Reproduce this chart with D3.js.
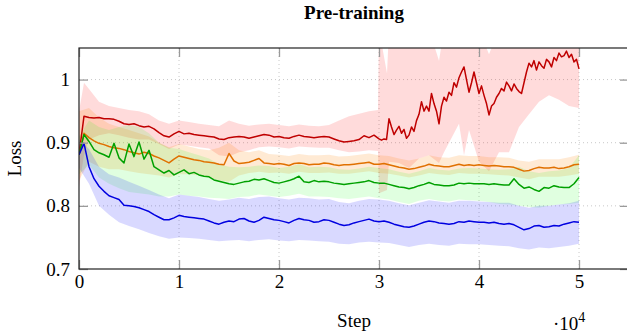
<!DOCTYPE html>
<html>
<head>
<meta charset="utf-8">
<script src="https://cdn.jsdelivr.net/npm/d3@7"></script>
<style>
  body { margin: 0; background: #fff; }
  svg text { font-family: "Liberation Serif", "Times New Roman", serif; fill: #000; }
</style>
</head>
<body>
<svg id="chart" width="627" height="334"></svg>
<script>
// x positions of the logged points, in units of 10^4 steps
const steps = d3.range(101).map(i => +(i * 0.05).toFixed(2));
// red run is logged more densely after 3e4 steps
const redSteps = steps.slice(0, 60).concat(d3.range(81).map(i => +(3 + i * 0.025).toFixed(3)));

const xTicks = [0, 1, 2, 3, 4, 5];
const yTicks = [0.7, 0.8, 0.9, 1.0];

// mean loss curves
const redLoss = [
  0.881,0.942,0.940,0.939,0.940,0.938,0.938,0.937,0.934,0.930,
  0.929,0.930,0.927,0.925,0.926,0.922,0.916,0.911,0.909,0.914,
  0.918,0.914,0.915,0.913,0.912,0.911,0.910,0.909,0.906,0.905,
  0.908,0.909,0.910,0.909,0.907,0.909,0.911,0.913,0.912,0.909,
  0.910,0.908,0.907,0.910,0.912,0.910,0.909,0.908,0.909,0.910,
  0.909,0.906,0.903,0.901,0.902,0.903,0.905,0.911,0.908,0.912,
  // from 3.0 on, every 0.025
  0.906,0.904,0.906,0.905,
  0.938,0.925,0.913,0.920,0.926,0.915,0.921,0.907,0.912,0.925,
  0.918,0.935,0.945,0.965,0.950,0.958,0.950,0.978,0.962,0.950,
  0.930,0.958,0.972,0.966,0.980,0.975,0.995,0.988,1.003,1.012,
  1.020,1.000,0.980,0.995,1.012,0.995,
  0.978,0.990,0.975,0.962,0.944,0.958,0.962,0.972,0.978,0.986,
  0.982,0.996,0.990,0.982,0.993,0.986,0.981,0.978,0.995,1.012,
  1.026,1.020,1.030,1.015,1.028,1.022,1.018,1.032,1.028,1.020,
  1.035,1.030,1.042,1.036,1.038,1.045,1.035,1.040,1.028,1.032,
  1.017];

const orangeLoss = [
  0.881,0.915,0.908,0.903,0.899,0.897,0.894,0.892,0.891,0.889,
  0.886,0.884,0.882,0.885,0.883,0.879,0.876,0.872,0.868,0.874,
  0.879,0.877,0.875,0.873,0.872,0.870,0.869,0.868,0.866,0.865,
  0.883,0.871,0.867,0.868,0.869,0.872,0.875,0.868,0.867,0.866,
  0.867,0.866,0.864,0.867,0.868,0.867,0.865,0.866,0.866,0.868,
  0.867,0.865,0.864,0.865,0.865,0.866,0.867,0.868,0.869,0.866,
  0.866,0.867,0.865,0.863,0.861,0.860,0.858,0.859,0.861,0.863,
  0.866,0.864,0.863,0.862,0.862,0.864,0.866,0.864,0.865,0.864,
  0.865,0.864,0.863,0.864,0.863,0.862,0.862,0.861,0.858,0.855,
  0.856,0.859,0.861,0.860,0.860,0.861,0.859,0.860,0.862,0.865,
  0.866];

const greenLoss = [
  0.881,0.913,0.902,0.889,0.884,0.881,0.877,0.899,0.876,0.868,
  0.898,0.878,0.901,0.874,0.888,0.862,0.857,0.852,0.856,0.849,
  0.853,0.857,0.851,0.853,0.849,0.847,0.846,0.841,0.839,0.837,
  0.835,0.834,0.836,0.838,0.839,0.842,0.841,0.843,0.840,0.837,
  0.836,0.838,0.840,0.843,0.847,0.838,0.837,0.840,0.838,0.839,
  0.838,0.836,0.835,0.834,0.835,0.836,0.837,0.838,0.840,0.837,
  0.836,0.836,0.834,0.832,0.830,0.829,0.827,0.829,0.832,0.834,
  0.837,0.834,0.833,0.832,0.832,0.833,0.836,0.835,0.836,0.835,
  0.835,0.835,0.834,0.835,0.834,0.833,0.833,0.843,0.834,0.828,
  0.830,0.826,0.823,0.829,0.828,0.832,0.830,0.829,0.829,0.835,
  0.845];

const blueLoss = [
  0.881,0.899,0.862,0.843,0.831,0.823,0.816,0.813,0.810,0.801,
  0.800,0.799,0.797,0.794,0.791,0.786,0.782,0.778,0.778,0.781,
  0.785,0.783,0.782,0.781,0.780,0.779,0.776,0.773,0.771,0.774,
  0.776,0.775,0.779,0.780,0.776,0.774,0.777,0.782,0.780,0.778,
  0.777,0.775,0.773,0.777,0.780,0.778,0.777,0.774,0.775,0.778,
  0.777,0.774,0.771,0.769,0.770,0.773,0.775,0.777,0.779,0.776,
  0.775,0.776,0.774,0.771,0.769,0.767,0.766,0.768,0.771,0.774,
  0.776,0.775,0.773,0.772,0.771,0.772,0.775,0.774,0.776,0.775,
  0.774,0.774,0.773,0.774,0.772,0.771,0.772,0.770,0.766,0.762,
  0.764,0.768,0.769,0.766,0.767,0.769,0.768,0.771,0.773,0.775,
  0.774];

// spread bands: [step, low, high]
const redBand = [
  [0,0.830,0.950],[0.05,0.880,0.995],[0.1,0.905,0.985],[0.2,0.912,0.965],[0.3,0.915,0.958],
  [0.4,0.912,0.955],[0.5,0.908,0.952],[0.6,0.905,0.950],[0.7,0.905,0.945],[0.8,0.898,0.935],
  [0.9,0.890,0.930],[1.0,0.897,0.935],[1.1,0.895,0.933],[1.2,0.893,0.930],[1.3,0.891,0.928],
  [1.4,0.880,0.926],[1.5,0.878,0.935],[1.6,0.885,0.930],[1.7,0.888,0.927],[1.8,0.893,0.929],
  [1.9,0.894,0.930],[2.0,0.893,0.928],[2.1,0.891,0.926],[2.2,0.894,0.929],[2.3,0.893,0.927],
  [2.4,0.892,0.926],[2.5,0.892,0.928],[2.6,0.888,0.935],[2.7,0.885,0.942],[2.8,0.886,0.946],
  [2.9,0.888,0.950],[2.99,0.887,0.952],[3.0,0.820,1.080],[3.08,0.825,1.010],[3.1,0.870,1.080],
  [3.2,0.868,1.080],[3.3,0.860,1.080],[3.4,0.875,1.080],[3.5,0.880,1.080],[3.6,0.868,1.030],
  [3.65,0.885,1.080],[3.7,0.900,1.080],[3.8,0.930,1.080],[3.85,0.880,1.080],[3.9,0.920,1.080],
  [3.95,0.895,1.080],[4.0,0.870,1.080],[4.1,0.855,1.040],[4.2,0.885,1.080],[4.3,0.885,1.080],
  [4.4,0.925,1.080],[4.5,0.945,1.080],[4.6,0.965,1.080],[4.7,0.975,1.080],[4.8,0.968,1.080],
  [4.9,0.958,1.080],[5.0,0.955,1.080]];

const orangeBand = [
  [0,0.840,0.950],[0.1,0.870,0.955],[0.2,0.862,0.940],[0.3,0.858,0.930],[0.4,0.858,0.925],
  [0.5,0.855,0.920],[0.6,0.852,0.915],[0.7,0.850,0.910],[0.8,0.848,0.900],[0.9,0.845,0.893],
  [1.0,0.850,0.898],[1.1,0.850,0.894],[1.2,0.848,0.890],[1.3,0.845,0.888],[1.4,0.840,0.892],
  [1.5,0.838,0.900],[1.6,0.848,0.888],[1.7,0.852,0.885],[1.8,0.854,0.888],[1.9,0.852,0.882],
  [2.0,0.853,0.881],[2.1,0.851,0.879],[2.2,0.854,0.882],[2.3,0.852,0.880],[2.4,0.852,0.880],
  [2.5,0.853,0.881],[2.6,0.851,0.878],[2.7,0.851,0.879],[2.8,0.853,0.881],[2.9,0.855,0.883],
  [3.0,0.852,0.880],[3.1,0.851,0.879],[3.2,0.848,0.875],[3.3,0.845,0.872],[3.4,0.848,0.875],
  [3.5,0.852,0.880],[3.6,0.850,0.877],[3.7,0.849,0.876],[3.8,0.852,0.880],[3.9,0.851,0.879],
  [4.0,0.851,0.879],[4.1,0.850,0.877],[4.2,0.849,0.877],[4.3,0.848,0.876],[4.4,0.845,0.872],
  [4.5,0.842,0.870],[4.6,0.846,0.874],[4.7,0.846,0.874],[4.8,0.846,0.874],[4.9,0.848,0.877],
  [5.0,0.851,0.881]];

const greenBand = [
  [0,0.850,0.910],[0.1,0.865,0.935],[0.2,0.845,0.925],[0.3,0.835,0.920],[0.4,0.828,0.925],
  [0.5,0.822,0.928],[0.6,0.820,0.925],[0.7,0.818,0.915],[0.8,0.815,0.900],[0.9,0.815,0.892],
  [1.0,0.818,0.890],[1.1,0.816,0.885],[1.2,0.815,0.880],[1.3,0.813,0.875],[1.4,0.812,0.866],
  [1.5,0.811,0.862],[1.6,0.814,0.861],[1.7,0.815,0.862],[1.8,0.818,0.864],[1.9,0.816,0.863],
  [2.0,0.814,0.860],[2.1,0.816,0.862],[2.2,0.819,0.866],[2.3,0.815,0.861],[2.4,0.815,0.862],
  [2.5,0.814,0.861],[2.6,0.812,0.858],[2.7,0.811,0.857],[2.8,0.813,0.859],[2.9,0.815,0.862],
  [3.0,0.812,0.860],[3.1,0.810,0.858],[3.2,0.806,0.854],[3.3,0.803,0.851],[3.4,0.808,0.855],
  [3.5,0.811,0.860],[3.6,0.808,0.857],[3.7,0.807,0.856],[3.8,0.810,0.859],[3.9,0.809,0.860],
  [4.0,0.808,0.859],[4.1,0.806,0.858],[4.2,0.803,0.857],[4.3,0.802,0.858],[4.4,0.800,0.862],
  [4.5,0.798,0.855],[4.6,0.797,0.852],[4.7,0.800,0.855],[4.8,0.802,0.856],[4.9,0.803,0.860],
  [5.0,0.805,0.880]];

const blueBand = [
  [0,0.860,0.905],[0.1,0.835,0.890],[0.2,0.800,0.862],[0.3,0.786,0.850],[0.4,0.774,0.845],
  [0.5,0.768,0.838],[0.6,0.763,0.832],[0.7,0.757,0.825],[0.8,0.752,0.818],[0.9,0.748,0.812],
  [1.0,0.750,0.818],[1.1,0.749,0.816],[1.2,0.748,0.814],[1.3,0.746,0.811],[1.4,0.744,0.808],
  [1.5,0.745,0.810],[1.6,0.746,0.813],[1.7,0.744,0.811],[1.8,0.746,0.814],[1.9,0.747,0.815],
  [2.0,0.745,0.812],[2.1,0.744,0.810],[2.2,0.746,0.813],[2.3,0.745,0.812],[2.4,0.744,0.810],
  [2.5,0.743,0.811],[2.6,0.740,0.806],[2.7,0.739,0.804],[2.8,0.742,0.808],[2.9,0.743,0.811],
  [3.0,0.742,0.810],[3.1,0.741,0.808],[3.2,0.738,0.804],[3.3,0.735,0.801],[3.4,0.738,0.805],
  [3.5,0.740,0.809],[3.6,0.738,0.807],[3.7,0.737,0.805],[3.8,0.740,0.808],[3.9,0.739,0.808],
  [4.0,0.739,0.807],[4.1,0.738,0.806],[4.2,0.737,0.805],[4.3,0.736,0.805],[4.4,0.733,0.800],
  [4.5,0.731,0.797],[4.6,0.734,0.800],[4.7,0.733,0.800],[4.8,0.735,0.802],[4.9,0.737,0.804],
  [5.0,0.740,0.808]];

const series = [
  { name: "red",    xs: redSteps, loss: redLoss,    band: redBand,    line: "#bf0000", fill: "#ff0000", op: 0.14 },
  { name: "orange", xs: steps,    loss: orangeLoss, band: orangeBand, line: "#e07000", fill: "#ff8000", op: 0.17 },
  { name: "green",  xs: steps,    loss: greenLoss,  band: greenBand,  line: "#00a000", fill: "#00ff00", op: 0.12 },
  { name: "blue",   xs: steps,    loss: blueLoss,   band: blueBand,   line: "#0000e0", fill: "#0000ff", op: 0.15 }
];

/////////////
// LAYOUT  //
/////////////
const svg = d3.select("#chart");
const margin = { left: 79, right: 629, top: 48, bottom: 269 };

const x = d3.scaleLinear().domain([0, 5.5]).range([margin.left, margin.right]);
const y = d3.scaleLinear().domain([0.7, 1.05]).range([margin.bottom, margin.top]);

svg.append("defs").append("clipPath")
  .attr("id", "plotclip")
  .append("rect")
  .attr("x", margin.left).attr("y", margin.top)
  .attr("width", margin.right - margin.left)
  .attr("height", margin.bottom - margin.top);

// grid
const grid = svg.append("g").attr("class", "grid");
grid.selectAll(".gx")
  .data(xTicks.slice(1))
  .enter().append("line")
  .attr("x1", d => x(d)).attr("x2", d => x(d))
  .attr("y1", margin.top).attr("y2", margin.bottom);
grid.selectAll(".gy")
  .data(yTicks.slice(1))
  .enter().append("line")
  .attr("x1", margin.left).attr("x2", margin.right)
  .attr("y1", d => y(d)).attr("y2", d => y(d));
grid.selectAll("line")
  .attr("stroke", "#c8c8c8")
  .attr("stroke-width", 1)
  .attr("stroke-dasharray", "1,3");

////////////
// DATA   //
////////////
const plot = svg.append("g").attr("clip-path", "url(#plotclip)");

const area = d3.area()
  .x(d => x(d[0]))
  .y0(d => y(d[1]))
  .y1(d => y(d[2]));

series.forEach(s => {
  plot.append("path")
    .datum(s.band)
    .attr("d", area)
    .attr("fill", s.fill)
    .attr("fill-opacity", s.op)
    .attr("stroke", "none");
});

series.forEach(s => {
  const line = d3.line()
    .x((d, i) => x(s.xs[i]))
    .y(d => y(d));
  plot.append("path")
    .datum(s.loss)
    .attr("d", line)
    .attr("fill", "none")
    .attr("stroke", s.line)
    .attr("stroke-width", 1.5)
    .attr("stroke-linejoin", "round");
});

////////////
// AXES   //
////////////
const tickLen = 9;
const fmtY = d => d === 1 ? "1" : d3.format(".1f")(d);

const gx = svg.append("g")
  .attr("transform", "translate(0," + margin.bottom + ")")
  .call(d3.axisBottom(x).tickValues(xTicks).tickSize(-tickLen).tickPadding(6).tickFormat(d3.format("d")));
const gxTop = svg.append("g")
  .attr("transform", "translate(0," + margin.top + ")")
  .call(d3.axisTop(x).tickValues(xTicks).tickSize(-tickLen).tickFormat(""));
const gy = svg.append("g")
  .attr("transform", "translate(" + margin.left + ",0)")
  .call(d3.axisLeft(y).tickValues(yTicks).tickSize(-tickLen).tickPadding(9).tickFormat(fmtY));
const gyRight = svg.append("g")
  .attr("transform", "translate(" + margin.right + ",0)")
  .call(d3.axisRight(y).tickValues(yTicks).tickSize(-tickLen).tickFormat(""));

[gx, gxTop, gy, gyRight].forEach(g => {
  g.select(".domain").remove();
  g.attr("font-family", null).attr("font-size", null);
  g.selectAll(".tick line").attr("stroke", "#9a9a9a").attr("stroke-width", 1.3);
  g.selectAll(".tick text").style("font-size", "19px");
});

// frame
svg.append("rect")
  .attr("x", margin.left).attr("y", margin.top)
  .attr("width", margin.right - margin.left)
  .attr("height", margin.bottom - margin.top)
  .attr("fill", "none")
  .attr("stroke", "#222")
  .attr("stroke-width", 1.2);

////////////
// LABELS //
////////////
svg.append("text")
  .attr("x", (margin.left + margin.right) / 2)
  .attr("y", 19)
  .attr("text-anchor", "middle")
  .style("font-size", "19px")
  .style("font-weight", "bold")
  .text("Pre-training");

svg.append("text")
  .attr("x", (margin.left + margin.right) / 2)
  .attr("y", 327)
  .attr("text-anchor", "middle")
  .style("font-size", "19px")
  .text("Step");

svg.append("text")
  .attr("transform", "translate(21," + y(0.875) + ") rotate(-90)")
  .attr("text-anchor", "middle")
  .style("font-size", "19px")
  .text("Loss");

const mult = svg.append("text")
  .attr("x", 553)
  .attr("y", 330)
  .style("font-size", "19px");
mult.append("tspan").text("\u00b710");
mult.append("tspan").attr("dy", -8).style("font-size", "14px").text("4");
</script>
</body>
</html>
